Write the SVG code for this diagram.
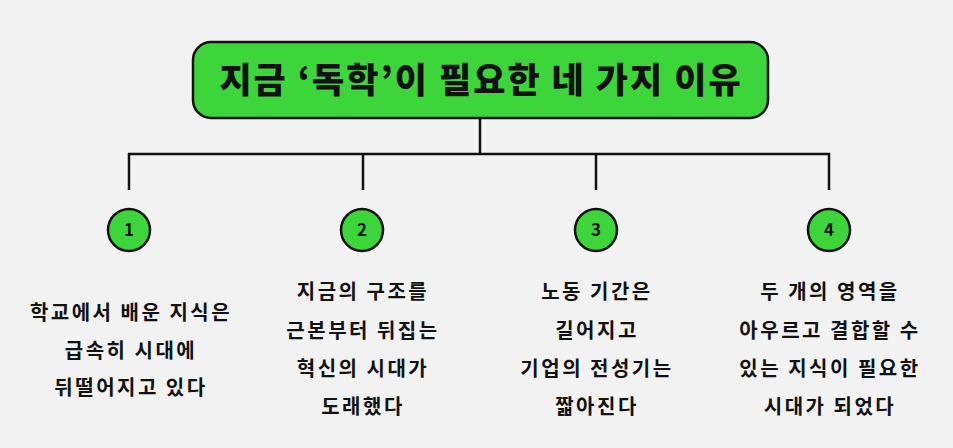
<svg xmlns="http://www.w3.org/2000/svg" width="953" height="448" viewBox="0 0 953 448">
<style>
.t{font-family:"Noto Sans CJK KR","Noto Sans",sans-serif;font-weight:700;fill:#111;text-anchor:middle}
.title{font-size:35px;letter-spacing:2px;font-weight:900}
.body{font-size:20px;letter-spacing:2.5px}
.num{font-size:17px}
.c{fill:#3dd63a;stroke:#111;stroke-width:2.5}
.ln{fill:none;stroke:#111;stroke-width:2.5}
</style>
<rect width="953" height="448" fill="#f2f2f2"/>
<g id="connectors">
<path class="ln" d="M480,118 V154 M129,190 V154 H829 V190 M363,154 V190 M596,154 V190"/>
</g>
<g id="title">
<rect x="193" y="42" width="575" height="76" rx="18" class="c"/>
<text class="t title" x="481" y="93">지금 ‘독학’이 필요한 네 가지 이유</text>
</g>
<g id="n1">
<circle cx="129" cy="230" r="21" class="c"/>
<text class="t num" x="129" y="236">1</text>
<text class="t body" x="131" y="320">학교에서 배운 지식은</text>
<text class="t body" x="131" y="358">급속히 시대에</text>
<text class="t body" x="131" y="395">뒤떨어지고 있다</text>
</g>
<g id="n2">
<circle cx="362" cy="230" r="21" class="c"/>
<text class="t num" x="362" y="236">2</text>
<text class="t body" x="363" y="299">지금의 구조를</text>
<text class="t body" x="363" y="338">근본부터 뒤집는</text>
<text class="t body" x="363" y="376">혁신의 시대가</text>
<text class="t body" x="363" y="414">도래했다</text>
</g>
<g id="n3">
<circle cx="596" cy="230" r="21" class="c"/>
<text class="t num" x="596" y="236">3</text>
<text class="t body" x="597" y="299">노동 기간은</text>
<text class="t body" x="597" y="338">길어지고</text>
<text class="t body" x="597" y="376">기업의 전성기는</text>
<text class="t body" x="597" y="414">짧아진다</text>
</g>
<g id="n4">
<circle cx="829" cy="230" r="21" class="c"/>
<text class="t num" x="829" y="236">4</text>
<text class="t body" x="830" y="299">두 개의 영역을</text>
<text class="t body" x="830" y="338">아우르고 결합할 수</text>
<text class="t body" x="830" y="376">있는 지식이 필요한</text>
<text class="t body" x="830" y="414">시대가 되었다</text>
</g>
</svg>
